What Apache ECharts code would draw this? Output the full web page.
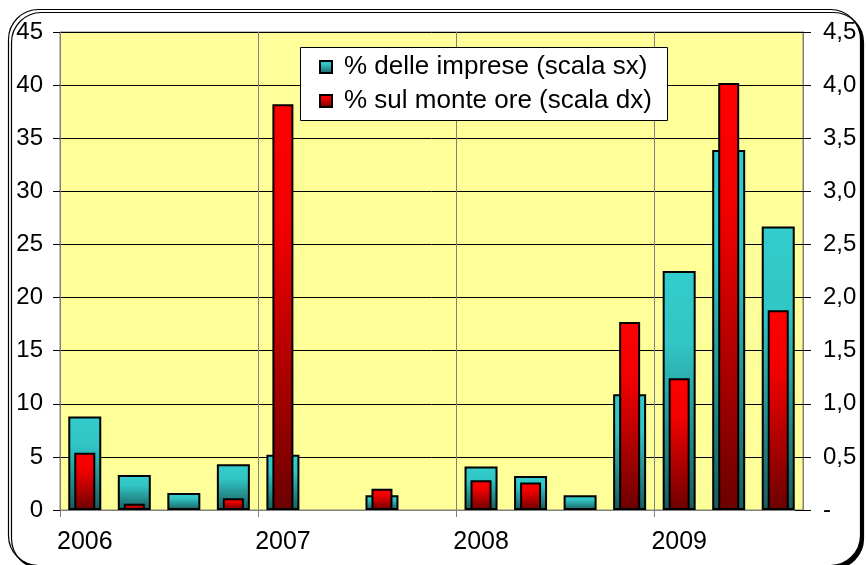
<!DOCTYPE html>
<html>
<head>
<meta charset="utf-8">
<script src="https://cdn.jsdelivr.net/npm/echarts@6/dist/echarts.min.js"></script>
<style>
  html, body { margin: 0; padding: 0; background: #ffffff; }
  #chart { width: 866px; height: 565px; }
</style>
</head>
<body>
<div id="chart"></div>
<script>
// Quarterly categories, 2006 Q1 .. 2009 Q3
const quarters = [
  '2006 T1', '2006 T2', '2006 T3', '2006 T4',
  '2007 T1', '2007 T2', '2007 T3', '2007 T4',
  '2008 T1', '2008 T2', '2008 T3', '2008 T4',
  '2009 T1', '2009 T2', '2009 T3'
];
// % delle imprese (left scale); null = no bar
const imprese = [8.8, 3.3, 1.6, 4.3, 5.2, null, 1.4, null, 4.1, 3.2, 1.4, 10.9, 22.5, 33.9, 26.7];
// % sul monte ore (right scale); null = no bar
const monteOre = [0.54, 0.06, null, 0.11, 3.82, null, 0.20, null, 0.28, 0.26, null, 1.77, 1.24, 4.02, 1.88];
// Year labels placed on the boundaries between quarters
const yearLabels = ['2006', '2007', '2008', '2009'];
// Axis ranges
const leftMax = 45, leftStep = 5;
const rightMax = 4.5, rightStep = 0.5;

const seriesNames = ['% delle imprese (scala sx)', '% sul monte ore (scala dx)'];

// 16 boundary slots: one at every quarter edge, year text every 4th
const yearAxis = [];
for (let i = 0; i <= quarters.length; i++) {
  yearAxis.push(i % 4 === 0 && yearLabels[i / 4] ? yearLabels[i / 4] : '');
}
const isYear = (idx, val) => val !== '';

const FONT = "'Liberation Sans', Arial, sans-serif";

const chart = echarts.init(document.getElementById('chart'), null, { renderer: 'canvas' });

const cyanFill = new echarts.graphic.LinearGradient(0, 0, 0, 1, [
  { offset: 0, color: '#33CCCC' },
  { offset: 0.3, color: '#32C6C6' },
  { offset: 1, color: '#1A5C5C' }
]);
const redFill = new echarts.graphic.LinearGradient(0, 0, 0, 1, [
  { offset: 0, color: '#FF0000' },
  { offset: 0.3, color: '#F20000' },
  { offset: 1, color: '#6C0000' }
]);

chart.setOption({
  backgroundColor: '#ffffff',
  animation: false,
  textStyle: { fontFamily: FONT },
  graphic: [
    {
      type: 'rect',
      z: -10,
      silent: true,
      shape: { x: 8.5, y: 9.5, width: 852, height: 556, r: 30 },
      style: {
        fill: '#ffffff', stroke: '#000000', lineWidth: 1.2,
        shadowColor: '#000000', shadowOffsetX: 3, shadowOffsetY: 3, shadowBlur: 0
      }
    },
    {
      type: 'rect',
      z: 3,
      silent: true,
      shape: { x: 300.5, y: 47.5, width: 367, height: 73 },
      style: { fill: '#ffffff', stroke: '#000000', lineWidth: 1 }
    }
  ],
  legend: {
    data: seriesNames,
    orient: 'vertical',
    left: 301,
    top: 47,
    padding: [7, 0, 0, 18],
    itemGap: 8,
    itemWidth: 12,
    itemHeight: 12,
    icon: 'rect',
    selectedMode: false,
    z: 5,
    textStyle: { fontFamily: FONT, fontSize: 26, color: '#000000', lineHeight: 26, padding: [0, 0, 0, 7] }
  },
  grid: {
    left: 60, top: 32, right: 63, bottom: 55,
    show: true,
    backgroundColor: '#FFFF99',
    borderColor: '#808080',
    borderWidth: 1
  },
  xAxis: [
    {
      type: 'category',
      data: quarters,
      axisLine: { show: true, lineStyle: { color: '#808080' } },
      axisTick: { show: false },
      axisLabel: { show: false },
      splitLine: { show: false }
    },
    {
      type: 'category',
      data: quarters,
      show: false
    },
    {
      type: 'category',
      data: yearAxis,
      boundaryGap: false,
      position: 'bottom',
      axisLine: { show: false },
      axisTick: { show: true, interval: isYear, length: 7, lineStyle: { color: '#808080' } },
      axisLabel: {
        interval: isYear, align: 'left', margin: 20, padding: [0, 0, 0, -3],
        fontFamily: FONT, fontSize: 25, color: '#000000'
      },
      splitLine: { show: true, interval: isYear, lineStyle: { color: '#808080', width: 1 } }
    }
  ],
  yAxis: [
    {
      type: 'value',
      position: 'left',
      min: 0, max: leftMax, interval: leftStep,
      axisLine: { show: true, lineStyle: { color: '#808080' } },
      axisTick: { show: true, length: 7, lineStyle: { color: '#000000' } },
      axisLabel: { margin: 17, fontFamily: FONT, fontSize: 24, color: '#000000' },
      splitLine: { show: true, lineStyle: { color: '#000000', width: 1 } }
    },
    {
      type: 'value',
      position: 'right',
      min: 0, max: rightMax, interval: rightStep,
      axisLine: { show: true, lineStyle: { color: '#808080' } },
      axisTick: { show: true, length: 8, lineStyle: { color: '#000000' } },
      axisLabel: {
        margin: 20, fontFamily: FONT, fontSize: 24, color: '#000000',
        formatter: v => (v === 0 ? '-' : v.toFixed(1).replace('.', ','))
      },
      splitLine: { show: false }
    },
    {
      // inner half of the crossing ticks on the right scale
      type: 'value',
      position: 'right',
      min: 0, max: rightMax, interval: rightStep,
      axisLine: { show: false },
      axisTick: { show: true, inside: true, length: 8, lineStyle: { color: '#000000' } },
      axisLabel: { show: false },
      splitLine: { show: false }
    }
  ],
  series: [
    {
      name: seriesNames[0],
      type: 'bar',
      xAxisIndex: 0,
      yAxisIndex: 0,
      data: imprese,
      barWidth: 33,
      itemStyle: { color: cyanFill, borderColor: '#000000', borderWidth: 2 }
    },
    {
      name: seriesNames[1],
      type: 'bar',
      xAxisIndex: 1,
      yAxisIndex: 1,
      data: monteOre,
      barWidth: 21,
      z: 3,
      itemStyle: { color: redFill, borderColor: '#000000', borderWidth: 2 }
    }
  ]
});
</script>
</body>
</html>
